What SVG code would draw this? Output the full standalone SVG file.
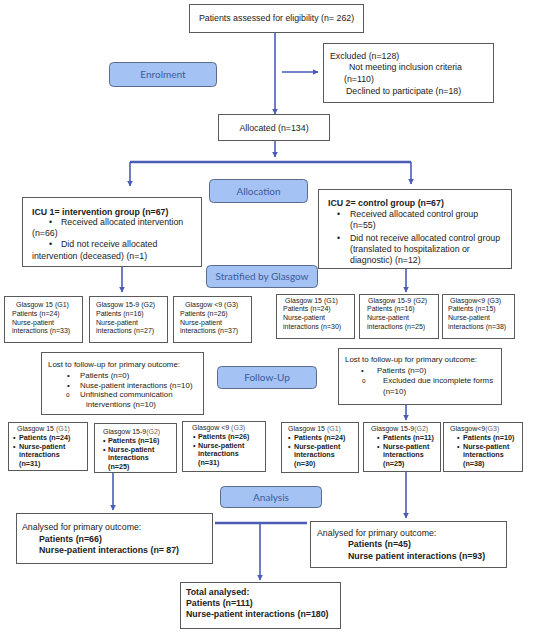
<svg xmlns="http://www.w3.org/2000/svg" width="550" height="632" viewBox="0 0 550 632">
<defs>
<marker id="ah" viewBox="0 0 10 10" refX="9" refY="5" markerWidth="6" markerHeight="6" markerUnits="userSpaceOnUse" orient="auto">
<path d="M0,0 L10,5 L0,10 z" fill="#4a5cb8"/>
</marker>
<style>
.box{fill:#fff;stroke:#5a5a5a;stroke-width:1}
.lab{fill:#a4c2f4;stroke:#5b6b8c;stroke-width:1}
.lt{font-family:Lato,"Open Sans",sans-serif;font-size:10px;fill:#3d5a99;text-anchor:middle}
.t{font-family:"Liberation Sans",Arial,sans-serif;font-size:8.8px;fill:#222}
.l{font-family:"Liberation Sans",Arial,sans-serif;font-size:7.9px;fill:#222}
.b{font-weight:bold}
.s{font-family:"Liberation Sans",Arial,sans-serif;font-size:7px;fill:#222}
.sb{font-family:"Liberation Sans",Arial,sans-serif;font-size:7.2px;fill:#222;font-weight:bold}
.g{fill:#666}
.ca{fill:none;stroke:#4a5cb8;stroke-width:1.6;marker-end:url(#ah)}
.ct{fill:none;stroke:#4a5cb8;stroke-width:2.5}
</style>
</defs>
<rect width="550" height="632" fill="#fff"/>

<g id="connectors">
<line class="ca" x1="275" y1="32" x2="275" y2="114"/>
<line class="ca" x1="282" y1="72" x2="318" y2="72"/>
<line class="ca" x1="275" y1="140" x2="275" y2="157"/>
<line class="ct" x1="130" y1="162" x2="411" y2="162"/>
<line class="ca" x1="130" y1="162" x2="130" y2="186"/>
<line class="ca" x1="411" y1="162" x2="411" y2="184"/>
<line class="ca" x1="122" y1="266" x2="122" y2="292"/>
<line class="ca" x1="406" y1="268" x2="406" y2="292"/>
<line class="ca" x1="406" y1="404" x2="406" y2="420"/>
<line class="ca" x1="113" y1="473" x2="113" y2="510"/>
<line class="ca" x1="406" y1="471" x2="406" y2="518"/>
<line class="ct" x1="215" y1="523" x2="307" y2="523"/>
<line class="ca" x1="260" y1="523" x2="260" y2="580"/>
</g>

<g id="eligibility">
<rect class="box" x="189.5" y="4.5" width="174" height="28"/>
<text class="t" x="276.5" y="21" text-anchor="middle">Patients assessed for eligibility (n= 262)</text>
</g>

<g id="enrolment">
<rect class="lab" x="109.5" y="62.5" width="107" height="24" rx="4"/>
<text class="lt" x="163" y="78">Enrolment</text>
</g>

<g id="excluded">
<rect class="box" x="323.5" y="43.5" width="170" height="59"/>
<text class="t" x="330" y="59">Excluded (n=128)</text>
<text class="t" x="349" y="70">Not meeting inclusion criteria</text>
<text class="t" x="344" y="82">(n=110)</text>
<text class="t" x="346" y="94">Declined to participate (n=18)</text>
</g>

<g id="allocated">
<rect class="box" x="218.5" y="114.5" width="111" height="26"/>
<text class="t" x="274" y="131" text-anchor="middle">Allocated (n=134)</text>
</g>

<g id="allocation">
<rect class="lab" x="209.5" y="179.5" width="98" height="23" rx="4"/>
<text class="lt" x="258.5" y="194.5">Allocation</text>
</g>

<g id="icu1">
<rect class="box" x="22.5" y="197.5" width="179" height="69"/>
<text class="t b" x="32" y="215">ICU 1= intervention group (n=67)</text>
<text class="t" x="49" y="225">•</text>
<text class="t" x="61" y="225">Received allocated intervention</text>
<text class="t" x="32" y="236">(n=66)</text>
<text class="t" x="49" y="247">•</text>
<text class="t" x="61" y="247">Did not receive allocated</text>
<text class="t" x="32" y="259">intervention (deceased) (n=1)</text>
</g>

<g id="icu2">
<rect class="box" x="318.5" y="189.5" width="193" height="79"/>
<text class="t b" x="328" y="206">ICU 2= control group (n=67)</text>
<text class="t" x="337" y="217">•</text>
<text class="t" x="350" y="217">Received allocated control group</text>
<text class="t" x="350" y="228">(n=55)</text>
<text class="t" x="337" y="241">•</text>
<text class="t" x="350" y="241">Did not receive allocated control group</text>
<text class="t" x="350" y="252">(translated to hospitalization or</text>
<text class="t" x="350" y="263">diagnostic) (n=12)</text>
</g>

<g id="stratified">
<rect class="lab" x="206.5" y="265.5" width="111" height="22" rx="4"/>
<text class="lt" x="262" y="280">Stratified by Glasgow</text>
</g>

<g id="i-g1">
<rect class="box" x="4.5" y="296.5" width="78" height="46"/>
<text class="s" x="16" y="307">Glasgow 15 (G1)</text>
<text class="s" x="12" y="316">Patients (n=24)</text>
<text class="s" x="12" y="325">Nurse-patient</text>
<text class="s" x="12" y="333">interactions (n=33)</text>
</g>
<g id="i-g2">
<rect class="box" x="89.5" y="296.5" width="78" height="46"/>
<text class="s" x="96" y="307">Glasgow 15-9 (G2)</text>
<text class="s" x="96" y="316">Patients (n=16)</text>
<text class="s" x="96" y="325">Nurse-patient</text>
<text class="s" x="96" y="333">interactions (n=27)</text>
</g>
<g id="i-g3">
<rect class="box" x="173.5" y="296.5" width="78" height="46"/>
<text class="s" x="185" y="307">Glasgow &lt;9 (G3)</text>
<text class="s" x="180" y="316">Patients (n=26)</text>
<text class="s" x="180" y="325">Nurse-patient</text>
<text class="s" x="180" y="333">interactions (n=37)</text>
</g>
<g id="c-g1">
<rect class="box" x="276.5" y="294.5" width="78" height="44"/>
<text class="s" x="285" y="303">Glasgow 15 (G1)</text>
<text class="s" x="283" y="311">Patients (n=24)</text>
<text class="s" x="283" y="320">Nurse-patient</text>
<text class="s" x="283" y="329">interactions (n=30)</text>
</g>
<g id="c-g2">
<rect class="box" x="359.5" y="294.5" width="79" height="44"/>
<text class="s" x="368" y="303">Glasgow 15-9 (G2)</text>
<text class="s" x="367" y="311">Patients (n=16)</text>
<text class="s" x="367" y="320">Nurse-patient</text>
<text class="s" x="367" y="329">interactions (n=25)</text>
</g>
<g id="c-g3">
<rect class="box" x="442.5" y="294.5" width="72" height="44"/>
<text class="s" x="450" y="303">Glasgow&lt;9 (G3)</text>
<text class="s" x="448" y="311">Patients (n=15)</text>
<text class="s" x="448" y="320">Nurse-patient</text>
<text class="s" x="448" y="329">interactions (n=38)</text>
</g>

<g id="lost-left">
<rect class="box" x="41.5" y="352.5" width="162" height="62"/>
<text class="l" x="48" y="367">Lost to follow-up for primary outcome:</text>
<text class="l" x="67" y="378">•</text>
<text class="l" x="80" y="378">Patients (n=0)</text>
<text class="l" x="67" y="388">•</text>
<text class="l" x="80" y="388">Nuse-patient interactions (n=10)</text>
<text class="l" x="66" y="397" style="font-size:6.5px">o</text>
<text class="l" x="80" y="397">Unfinished communication</text>
<text class="l" x="86" y="407">interventions (n=10)</text>
</g>

<g id="followup">
<rect class="lab" x="217.5" y="366.5" width="99" height="22" rx="4"/>
<text class="lt" x="267" y="381">Follow-Up</text>
</g>

<g id="lost-right">
<rect class="box" x="338.5" y="348.5" width="163" height="56"/>
<text class="l" x="345" y="362">Lost to follow-up for primary outcome:</text>
<text class="l" x="361" y="373">•</text>
<text class="l" x="377" y="373">Patients (n=0)</text>
<text class="l" x="362" y="383" style="font-size:6.5px">o</text>
<text class="l" x="383" y="383">Excluded due incomplete forms</text>
<text class="l" x="383" y="394">(n=10)</text>
</g>

<g id="f-i-g1">
<rect class="box" x="8.5" y="422.5" width="79" height="48"/>
<text class="s" x="17" y="431">Glasgow 15 <tspan class="g">(G1)</tspan></text>
<text class="sb" x="13" y="440">•</text>
<text class="sb" x="19" y="440">Patients (n=24)</text>
<text class="sb" x="13" y="449">•</text>
<text class="sb" x="19" y="449">Nurse-patient</text>
<text class="sb" x="19" y="457">interactions</text>
<text class="sb" x="19" y="466">(n=31)</text>
</g>
<g id="f-i-g2">
<rect class="box" x="94.5" y="423.5" width="82" height="49"/>
<text class="s" x="103" y="434">Glasgow 15-9<tspan class="g">(G2)</tspan></text>
<text class="sb" x="103" y="443">•</text>
<text class="sb" x="108" y="443">Patients (n=16)</text>
<text class="sb" x="103" y="452">•</text>
<text class="sb" x="108" y="452">Nurse-patient</text>
<text class="sb" x="108" y="460">interactions</text>
<text class="sb" x="108" y="469">(n=25)</text>
</g>
<g id="f-i-g3">
<rect class="box" x="182.5" y="421.5" width="83" height="50"/>
<text class="s" x="192" y="430">Glasgow &lt;9 <tspan class="g">(G3)</tspan></text>
<text class="sb" x="193" y="439">•</text>
<text class="sb" x="198" y="439">Patients (n=26)</text>
<text class="sb" x="193" y="448">•</text>
<text class="sb" x="198" y="448">Nurse-patient</text>
<text class="sb" x="198" y="456">interactions</text>
<text class="sb" x="198" y="465">(n=31)</text>
</g>
<g id="f-c-g1">
<rect class="box" x="281.5" y="422.5" width="77" height="50"/>
<text class="s" x="288" y="431">Glasgow 15 <tspan class="g">(G1)</tspan></text>
<text class="sb" x="288" y="440">•</text>
<text class="sb" x="294" y="440">Patients (n=24)</text>
<text class="sb" x="288" y="449">•</text>
<text class="sb" x="294" y="449">Nurse-patient</text>
<text class="sb" x="294" y="457">interactions</text>
<text class="sb" x="294" y="466">(n=30)</text>
</g>
<g id="f-c-g2">
<rect class="box" x="363.5" y="422.5" width="77" height="49"/>
<text class="s" x="371" y="431">Glasgow 15-9<tspan class="g">(G2)</tspan></text>
<text class="sb" x="377" y="440">•</text>
<text class="sb" x="383" y="440">Patients (n=11)</text>
<text class="sb" x="377" y="449">•</text>
<text class="sb" x="383" y="449">Nurse-patient</text>
<text class="sb" x="383" y="457">interactions</text>
<text class="sb" x="383" y="466">(n=25)</text>
</g>
<g id="f-c-g3">
<rect class="box" x="443.5" y="422.5" width="79" height="49"/>
<text class="s" x="450" y="431">Glasgow&lt;9<tspan class="g">(G3)</tspan></text>
<text class="sb" x="457" y="440">•</text>
<text class="sb" x="463" y="440">Patients (n=10)</text>
<text class="sb" x="457" y="449">•</text>
<text class="sb" x="463" y="449">Nurse-patient</text>
<text class="sb" x="463" y="457">interactions</text>
<text class="sb" x="463" y="466">(n=38)</text>
</g>

<g id="analysis">
<rect class="lab" x="220.5" y="486.5" width="101" height="21" rx="4"/>
<text class="lt" x="271" y="500.5">Analysis</text>
</g>

<g id="analysed-left">
<rect class="box" x="16.5" y="513.5" width="196" height="50"/>
<text class="t" x="22" y="530">Analysed for primary outcome:</text>
<text class="t b" x="39" y="542">Patients (n=66)</text>
<text class="t b" x="39" y="553">Nurse-patient interactions (n= 87)</text>
</g>

<g id="analysed-right">
<rect class="box" x="310.5" y="521.5" width="196" height="46"/>
<text class="t" x="317" y="536">Analysed for primary outcome:</text>
<text class="t b" x="348" y="547">Patients (n=45)</text>
<text class="t b" x="348" y="559">Nurse patient interactions (n=93)</text>
</g>

<g id="total">
<rect class="box" x="180.5" y="582.5" width="160" height="46"/>
<text class="t b" x="186" y="595">Total analysed:</text>
<text class="t b" x="186" y="606">Patients (n=111)</text>
<text class="t b" x="186" y="617">Nurse-patient interactions (n=180)</text>
</g>
</svg>
